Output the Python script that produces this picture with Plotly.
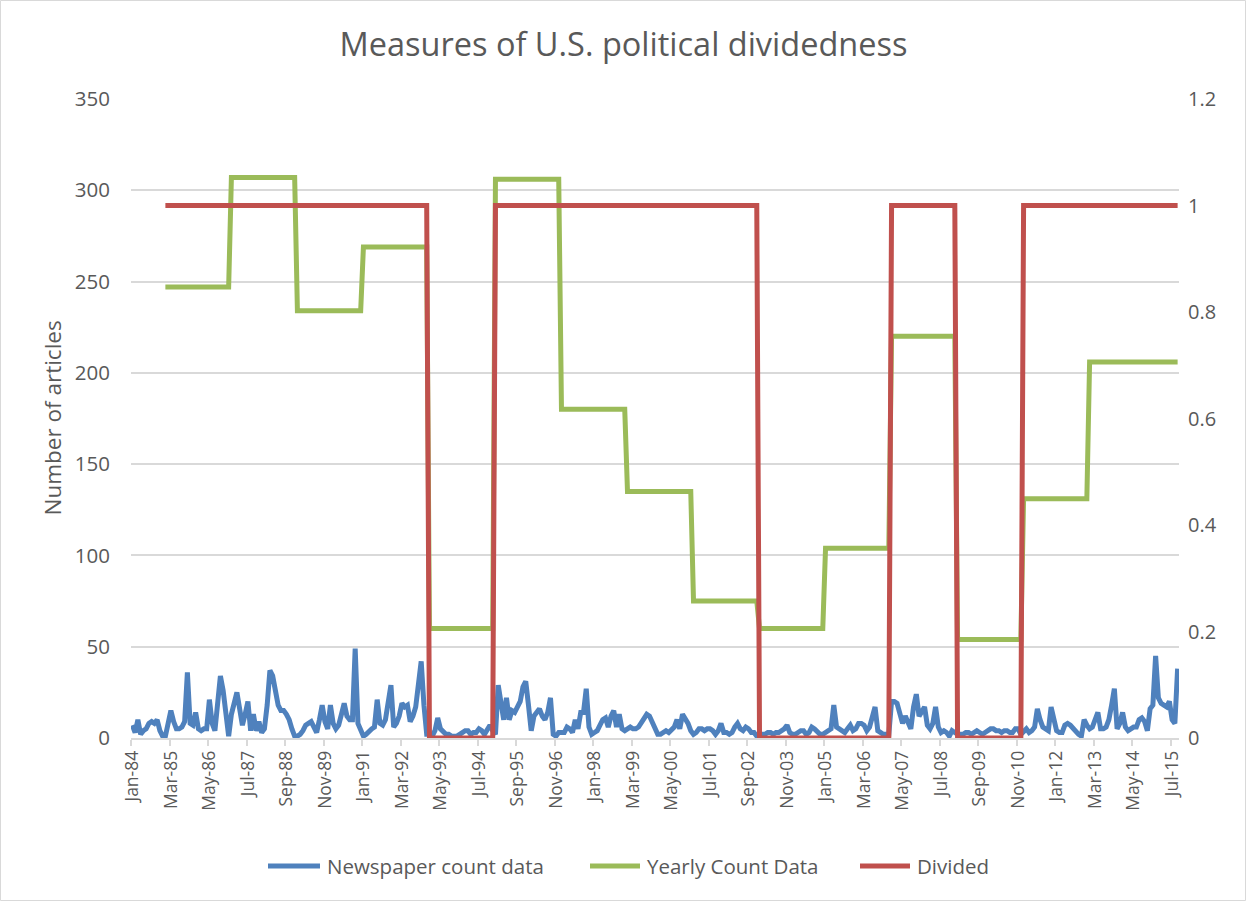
import pandas as pd
import plotly.graph_objects as go

# ---------------- DATA ----------------
months = pd.period_range("1984-01", "2015-09", freq="M")
month_labels = [p.strftime("%b-%y") for p in months]

news_1984 = [7, 3, 10, 2, 4, 5, 8, 9, 8, 10, 4, 1]
news_1985 = [1, 7, 15, 9, 5, 5, 6, 9, 36, 8, 7, 14]
news_1986 = [5, 4, 5, 5, 21, 8, 4, 19, 34, 26, 12, 1]
news_1987 = [13, 20, 25, 16, 7, 13, 20, 4, 13, 4, 9, 3]
news_1988 = [5, 18, 37, 34, 25, 18, 15, 15, 13, 10, 5, 1]
news_1989 = [1, 2, 4, 7, 8, 9, 6, 3, 10, 18, 9, 5]
news_1990 = [18, 8, 5, 7, 13, 19, 12, 10, 10, 49, 8, 5]
news_1991 = [1, 2, 4, 5, 6, 21, 8, 7, 10, 18, 29, 6]
news_1992 = [8, 12, 19, 17, 18, 9, 12, 17, 28, 42, 18, 2]
news_1993 = [2, 1, 4, 11, 5, 3, 2, 2, 1, 1, 1, 2]
news_1994 = [3, 4, 4, 2, 3, 3, 5, 4, 2, 4, 7, 4]
news_1995 = [2, 29, 18, 10, 22, 10, 15, 14, 17, 20, 28, 31]
news_1996 = [18, 4, 12, 14, 16, 12, 10, 14, 22, 2, 1, 3]
news_1997 = [3, 3, 6, 5, 3, 10, 5, 14, 14, 27, 6, 2]
news_1998 = [3, 4, 7, 10, 11, 6, 12, 15, 6, 13, 5, 4]
news_1999 = [5, 6, 5, 5, 6, 8, 10, 13, 12, 9, 5, 2]
news_2000 = [2, 3, 4, 3, 5, 6, 10, 5, 13, 11, 8, 4]
news_2001 = [2, 3, 5, 5, 4, 5, 5, 4, 2, 4, 8, 3]
news_2002 = [3, 2, 3, 6, 8, 5, 4, 6, 5, 3, 3, 1]
news_2003 = [1, 2, 2, 3, 3, 2, 3, 3, 4, 5, 7, 3]
news_2004 = [2, 2, 3, 4, 4, 2, 3, 6, 5, 3, 2, 2]
news_2005 = [3, 4, 5, 18, 6, 5, 4, 3, 5, 7, 4, 5]
news_2006 = [8, 8, 7, 4, 6, 12, 17, 4, 3, 2, 2, 2]
news_2007 = [20, 20, 19, 12, 8, 12, 8, 5, 17, 24, 12, 15]
news_2008 = [17, 7, 5, 8, 17, 6, 3, 4, 3, 1, 4, 3]
news_2009 = [2, 2, 2, 3, 3, 2, 3, 4, 3, 2, 3, 4]
news_2010 = [5, 5, 4, 4, 3, 4, 4, 3, 3, 5, 5, 2]
news_2011 = [4, 5, 3, 4, 6, 16, 10, 6, 5, 4, 17, 10]
news_2012 = [4, 3, 3, 7, 8, 7, 5, 4, 2, 1, 10, 7]
news_2013 = [5, 6, 10, 14, 5, 5, 6, 10, 18, 27, 5, 8]
news_2014 = [14, 6, 4, 5, 6, 6, 10, 11, 9, 4, 16, 18]
news_2015 = [45, 22, 19, 18, 17, 20, 10, 8, 38]

newspaper_counts = (news_1984 + news_1985 + news_1986 + news_1987 + news_1988 + news_1989
                    + news_1990 + news_1991 + news_1992 + news_1993 + news_1994 + news_1995
                    + news_1996 + news_1997 + news_1998 + news_1999 + news_2000 + news_2001
                    + news_2002 + news_2003 + news_2004 + news_2005 + news_2006 + news_2007
                    + news_2008 + news_2009 + news_2010 + news_2011 + news_2012 + news_2013
                    + news_2014 + news_2015)

count_years = list(range(1985, 2016))
yearly_count = [247, 247, 307, 307, 234, 234, 269, 269, 60, 60, 306, 306, 180, 180, 135, 135,
                75, 75, 60, 60, 104, 104, 220, 220, 54, 54, 131, 131, 206, 206, 206]
divided = [1, 1, 1, 1, 1, 1, 1, 1, 0, 0, 1, 1, 1, 1, 1, 1,
           1, 1, 0, 0, 0, 0, 1, 1, 0, 0, 1, 1, 1, 1, 1]

tick_labels = ["Jan-84", "Mar-85", "May-86", "Jul-87", "Sep-88", "Nov-89", "Jan-91", "Mar-92",
               "May-93", "Jul-94", "Sep-95", "Nov-96", "Jan-98", "Mar-99", "May-00", "Jul-01",
               "Sep-02", "Nov-03", "Jan-05", "Mar-06", "May-07", "Jul-08", "Sep-09", "Nov-10",
               "Jan-12", "Mar-13", "May-14", "Jul-15"]

series_names = ["Newspaper count data", "Yearly Count Data", "Divided"]
series_colors = ["#4f81bd", "#9bbb59", "#c0504d"]

# ---------------- BUILD ----------------
x = list(range(len(months)))
yc_map = dict(zip(count_years, yearly_count))
dv_map = dict(zip(count_years, divided))
yearly_monthly = [yc_map.get(p.year) for p in months]
divided_monthly = [dv_map.get(p.year) for p in months]
tickvals = [month_labels.index(t) for t in tick_labels]

FONT = "'Open Sans', Lato, sans-serif"
GREY = "#595959"
GRID = "#d9d9d9"
LW = 5

fig = go.Figure()
fig.add_trace(go.Scatter(x=x, y=newspaper_counts, mode="lines", name=series_names[0],
                         line=dict(color=series_colors[0], width=LW)))
fig.add_trace(go.Scatter(x=x, y=yearly_monthly, mode="lines", name=series_names[1],
                         line=dict(color=series_colors[1], width=LW)))
fig.add_trace(go.Scatter(x=x, y=divided_monthly, mode="lines", name=series_names[2], yaxis="y2",
                         line=dict(color=series_colors[2], width=LW)))

L, R, T, B = 131, 68, 99, 164
W, H = 1247, 902
pw, ph = W - L - R, H - T - B


def px_x(p):
    return (p - L) / pw


def px_y(p):
    return (H - B - p) / ph


fig.update_layout(
    width=W, height=H,
    margin=dict(l=L, r=R, t=T, b=B),
    paper_bgcolor="white", plot_bgcolor="white",
    font=dict(family=FONT, color=GREY, size=18),
    showlegend=False,
    title=dict(text="Measures of U.S. political dividedness", x=0.5, xref="container",
               y=1 - 45 / H, yref="container", yanchor="middle", xanchor="center",
               font=dict(family=FONT, size=32.5, color=GREY)),
    xaxis=dict(range=[-0.5, len(x) - 0.5], tickmode="array", tickvals=tickvals,
               ticktext=tick_labels, tickangle=-90, ticks="", showgrid=False,
               showline=True, linecolor=GRID, linewidth=1.5, zeroline=False,
               tickfont=dict(size=17.5, color=GREY), ticklabelstandoff=4,
               minor=dict(ticks="outside", tick0=-0.5, dtick=14, ticklen=6,
                          tickcolor=GRID, tickwidth=1.5, showgrid=False)),
    yaxis=dict(range=[0, 350], dtick=50, showgrid=True, gridcolor=GRID, gridwidth=1.5,
               zeroline=False, showline=False, ticks="", tickfont=dict(size=20.5, color=GREY),
               ticklabelstandoff=20),
    yaxis2=dict(range=[0, 1.2], dtick=0.2, overlaying="y", side="right", showgrid=False,
                zeroline=False, showline=False, ticks="", tickfont=dict(size=20, color=GREY),
                ticklabelstandoff=8),
)

fig.add_annotation(text="Number of articles", xref="paper", yref="paper",
                   x=px_x(52), y=0.5, textangle=-90, showarrow=False,
                   xanchor="center", yanchor="middle", font=dict(size=22.5, color=GREY))

# manual legend (positions in pixels)
legend_line_x = [(268, 320), (590, 640), (860, 910)]
legend_y = 866
for (x0, x1), name, col in zip(legend_line_x, series_names, series_colors):
    fig.add_shape(type="line", xref="paper", yref="paper",
                  x0=px_x(x0), x1=px_x(x1), y0=px_y(legend_y), y1=px_y(legend_y),
                  line=dict(color=col, width=LW))
    fig.add_annotation(text=name, xref="paper", yref="paper", x=px_x(x1 + 5),
                       y=px_y(legend_y), xanchor="left", yanchor="middle", showarrow=False,
                       font=dict(size=20.5, color=GREY))

fig.add_shape(type="rect", xref="paper", yref="paper",
              x0=px_x(0.5), x1=px_x(W - 1.5), y0=px_y(H - 1.5), y1=px_y(0.5),
              line=dict(color=GRID, width=1), fillcolor="rgba(0,0,0,0)", layer="below")

fig.write_html("out.html")
